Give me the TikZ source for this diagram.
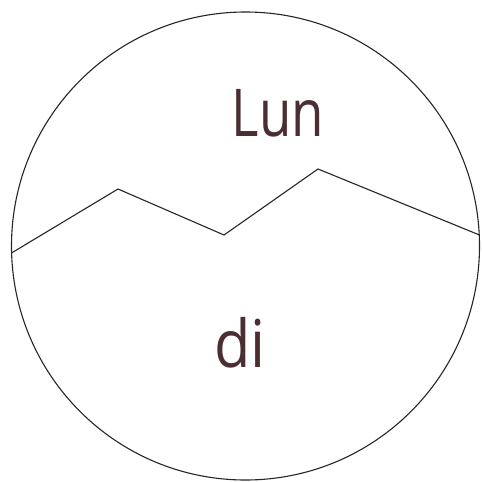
\documentclass[tikz,border=0pt]{standalone}
\usepackage{fontspec}
\setmainfont{Open Sans}
\definecolor{ink}{HTML}{4A2E33}
\definecolor{pen}{HTML}{2A2426}
\tikzset{
  label text/.style={text=ink, inner sep=0pt, font=\fontsize{66}{66}\selectfont\addfontfeatures{}, anchor=center},
  outline/.style={draw=pen, line width=1.1pt}
}
\begin{document}
\begin{tikzpicture}[x=1pt,y=-1pt]
\useasboundingbox (0,0) rectangle (482,482);
\fill[white] (0,0) rectangle (482,482);
\node[outline, circle, minimum size=468pt, inner sep=0pt] (disc) at (245.5,246) {};
\coordinate (z0) at (11.5,253);
\coordinate (z1) at (118,189);
\coordinate (z2) at (224,235);
\coordinate (z3) at (318,169);
\coordinate (z4) at (479.5,235);
\draw[outline, line join=miter] (z0) -- (z1) -- (z2) -- (z3) -- (z4);
\node[label text, xscale=0.8] (lun) at (278,113) {Lun};
\node[label text, xscale=0.9] (di) at (240,343) {di};
\end{tikzpicture}
\end{document}
